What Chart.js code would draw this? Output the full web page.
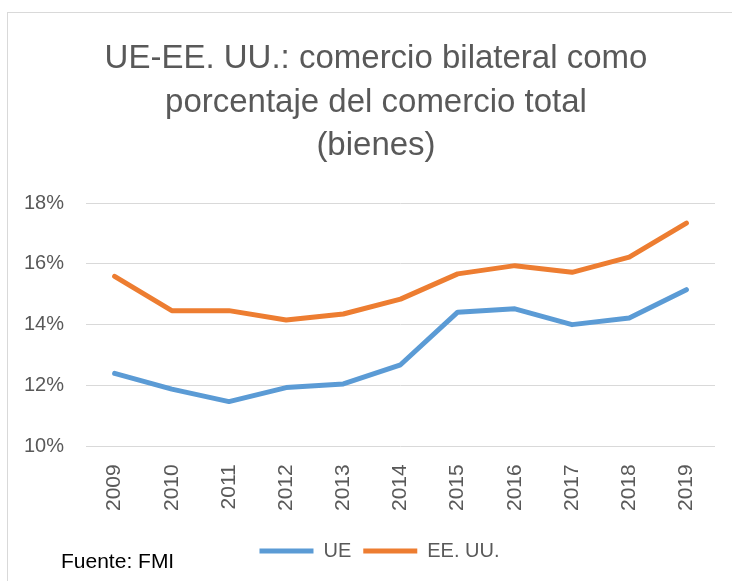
<!DOCTYPE html>
<html>
<head>
<meta charset="utf-8">
<script src="https://cdn.jsdelivr.net/npm/chart.js@4.4.1/dist/chart.umd.min.js"></script>
<style>
    html, body { margin: 0; padding: 0; background: #fff; }
    #wrap { position: relative; width: 732px; height: 581px; overflow: hidden; }
    #frame { position: absolute; left: 7px; top: 12px; width: 760px; height: 600px; border: 1px solid #d9d9d9; box-sizing: border-box; }
    #chart { position: absolute; left: 0; top: 0; }
    #title { position: absolute; left: 0; top: 35px; width: 752px; text-align: center; font: 33px/43.5px 'Liberation Sans', Arial, sans-serif; color: #595959; }
    #source { position: absolute; left: 61px; top: 549px; font: 21px 'Liberation Sans', Arial, sans-serif; color: #000; }
</style>
</head>
<body>
<div id="wrap">
    <div id="frame"></div>
    <canvas id="chart" width="732" height="581"></canvas>
    <div id="title"></div>
    <div id="source">Fuente: FMI</div>
</div>
<script>
// Data (percent of total trade)
const years = ['2009', '2010', '2011', '2012', '2013', '2014', '2015', '2016', '2017', '2018', '2019'];
const ueValues = [12.40, 11.88, 11.47, 11.93, 12.05, 12.68, 14.41, 14.52, 14.00, 14.22, 15.15];
const eeuuValues = [15.59, 14.46, 14.46, 14.15, 14.35, 14.84, 15.67, 15.94, 15.72, 16.22, 17.34];
const yTicks = [10, 12, 14, 16, 18];

const titleLines = ['UE-EE. UU.: comercio bilateral como', 'porcentaje del comercio total', '(bienes)'];

const FONT = "'Liberation Sans', Arial, sans-serif";
const GREY = '#595959';

// title sits off-centre in the original, so it is placed as html text
document.getElementById('title').innerHTML = titleLines.join('<br>');

Chart.defaults.font.family = FONT;
Chart.defaults.color = GREY;

// nudge the legend row to the right, like the Excel original
const legendShift = {
    id: 'legendShift',
    afterLayout(chart) {
        chart.legend.left += 21;
        chart.legend.right += 21;
    }
};

new Chart(document.getElementById('chart'), {
    type: 'line',
    data: {
        labels: years,
        datasets: [{
            label: 'UE',
            data: ueValues,
            borderColor: '#5B9BD5',
            backgroundColor: '#5B9BD5',
            borderWidth: 5,
            borderCapStyle: 'round',
            borderJoinStyle: 'round',
            pointRadius: 0,
            tension: 0
        }, {
            label: 'EE. UU.',
            data: eeuuValues,
            borderColor: '#ED7D31',
            backgroundColor: '#ED7D31',
            borderWidth: 5,
            borderCapStyle: 'round',
            borderJoinStyle: 'round',
            pointRadius: 0,
            tension: 0
        }]
    },
    options: {
        responsive: false,
        animation: false,
        layout: { padding: { left: 2, right: 17, top: 203, bottom: 10 } },
        scales: {
            x: {
                offset: true,
                grid: { display: false, drawTicks: false },
                border: { display: false },
                ticks: {
                    color: GREY,
                    font: { size: 21 },
                    minRotation: 90,
                    maxRotation: 90,
                    padding: 18,
                    autoSkip: false
                }
            },
            y: {
                min: 10,
                max: 18,
                afterBuildTicks: axis => { axis.ticks = yTicks.map(v => ({ value: v })); },
                grid: { color: '#d9d9d9', lineWidth: 1, drawTicks: false },
                border: { display: false },
                ticks: {
                    color: GREY,
                    font: { size: 20 },
                    padding: 22,
                    callback: v => v + '%'
                }
            }
        },
        plugins: {
            title: { display: false },
            legend: {
                position: 'bottom',
                labels: {
                    color: GREY,
                    font: { size: 20 },
                    usePointStyle: true,
                    pointStyle: 'line',
                    pointStyleWidth: 54,
                    padding: 12
                }
            },
            tooltip: { enabled: false }
        }
    },
    plugins: [legendShift]
});
</script>
</body>
</html>
